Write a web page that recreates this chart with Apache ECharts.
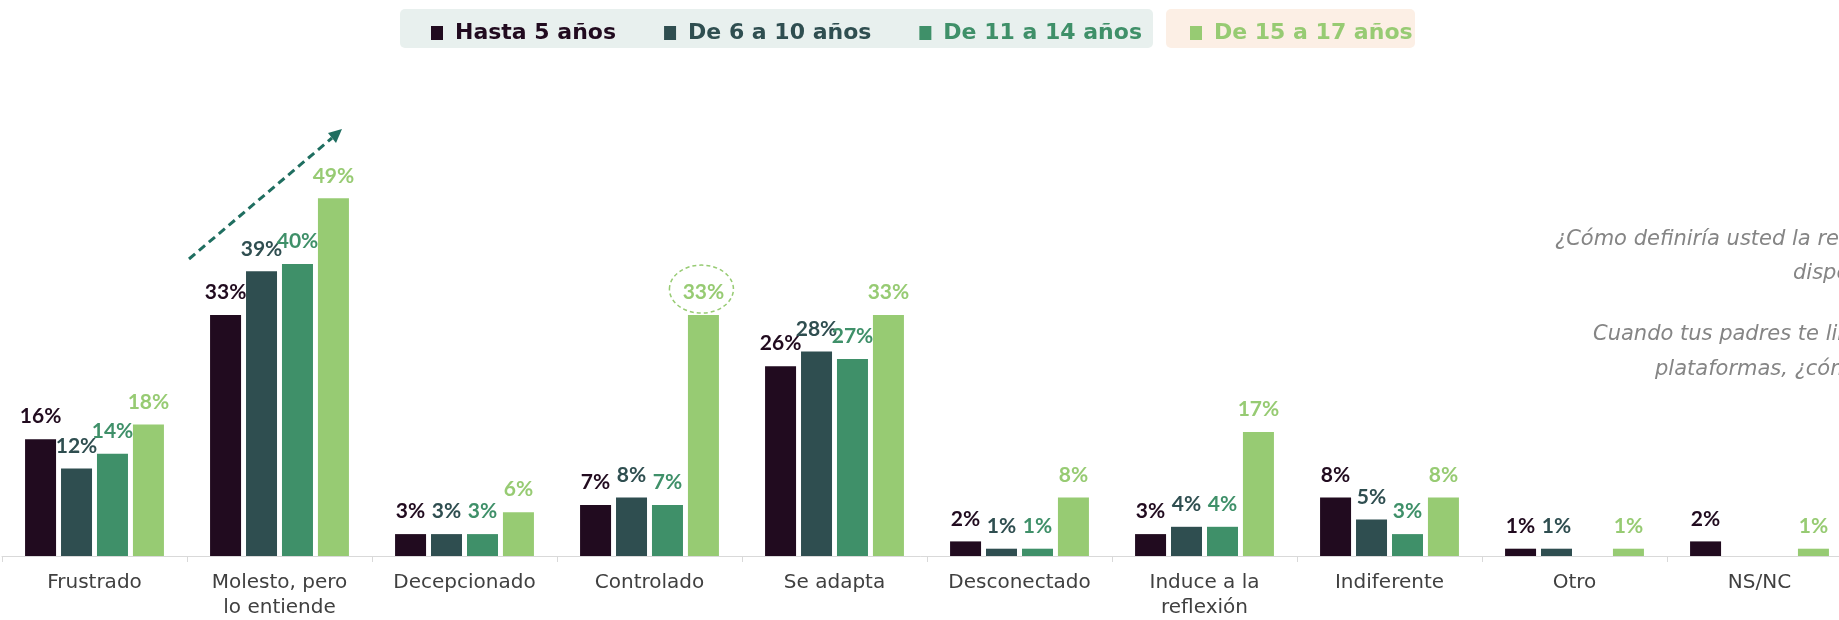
<!DOCTYPE html>
<html>
<head>
<meta charset="utf-8">
<title>Reacción ante la limitación de dispositivos</title>
<script src="https://cdn.jsdelivr.net/npm/echarts@6/dist/echarts.min.js"></script>
<style>
  html, body { margin: 0; padding: 0; background: #fff; }
  #chart { width: 1839px; height: 620px; }
</style>
</head>
<body>
<div id="chart"></div>
<script>
// categorias del eje x
const categories = ['Frustrado', 'Molesto, pero\nlo entiende', 'Decepcionado', 'Controlado', 'Se adapta', 'Desconectado', 'Induce a la\nreflexión', 'Indiferente', 'Otro', 'NS/NC']
const seriesNames = ['Hasta 5 años', 'De 6 a 10 años', 'De 11 a 14 años', 'De 15 a 17 años']

// porcentajes por grupo de edad (null = sin respuesta)
const hasta5 = [16, 33, 3, 7, 26, 2, 3, 8, 1, 2]
const de6a10 = [12, 39, 3, 8, 28, 1, 4, 5, 1, null]
const de11a14 = [14, 40, 3, 7, 27, 1, 4, 3, null, null]
const de15a17 = [18, 49, 6, 33, 33, 8, 17, 8, 1, 1]

const colors = ['#210b1f', '#2f4e50', '#3f9069', '#97cb73']

const questionLines = [
  '¿Cómo definiría usted la reacción de su hijo/a cuando',
  'dispositivos?',
  'Cuando tus padres te limitan el uso de',
  'plataformas, ¿cómo te sientes?'
]

const chart = echarts.init(document.getElementById('chart'))
const seriesData = [hasta5, de6a10, de11a14, de15a17]
const arrowColor = '#1f6e60'
const questionStyle = { fontFamily: 'DejaVu Sans', fontStyle: 'italic', fontSize: 21, fill: '#858585', verticalAlign: 'bottom' }

chart.setOption({
  animation: false,
  backgroundColor: '#fff',
  legend: {
    left: 426,
    top: 17,
    itemGap: 48,
    itemWidth: 12,
    itemHeight: 14,
    icon: 'rect',
    selectedMode: false,
    data: seriesNames.map((name, i) => ({ name, textStyle: { color: colors[i] } })),
    textStyle: {
      fontFamily: 'DejaVu Sans',
      fontWeight: 'bold',
      fontSize: 22,
      padding: [0, 0, 0, 7]
    }
  },
  // el eje sigue mas alla del borde derecho, como en la imagen original
  grid: {
    left: 2,
    right: -13,
    top: 118,
    bottom: 64,
    outerBoundsMode: 'none'
  },
  xAxis: {
    type: 'category',
    data: categories,
    axisLine: { lineStyle: { color: '#d9d9d9' } },
    axisTick: { show: true, length: 6, lineStyle: { color: '#d9d9d9' } },
    axisLabel: {
      interval: 0,
      margin: 14,
      fontFamily: 'DejaVu Sans',
      fontSize: 20,
      lineHeight: 25,
      color: '#404040'
    }
  },
  yAxis: {
    type: 'value',
    min: 0,
    max: 60,
    show: false
  },
  series: seriesData.map((values, i) => ({
    name: seriesNames[i],
    type: 'bar',
    data: values,
    barWidth: 31,
    barGap: '16%',
    itemStyle: { color: colors[i] },
    label: {
      show: true,
      position: 'top',
      distance: 12,
      formatter: '{c}%',
      color: colors[i],
      fontFamily: 'Lato',
      fontWeight: 'bold',
      fontSize: 21
    }
  })),
  graphic: [
    { id: 'legendBg1', type: 'rect', z: 0, shape: { x: 400, y: 9, width: 753, height: 39, r: 5 }, style: { fill: '#e8f0ee' } },
    { id: 'legendBg2', type: 'rect', z: 0, shape: { x: 1166, y: 9, width: 249, height: 39, r: 5 }, style: { fill: '#fcefe5' } },
    { id: 'arrowLine', type: 'line', shape: { x1: 189, y1: 259, x2: 332, y2: 138 }, style: { stroke: arrowColor, lineWidth: 3, lineDash: [8, 5] } },
    { id: 'arrowHead', type: 'polygon', shape: { points: [[342, 129], [328, 133], [336, 143]] }, style: { fill: arrowColor } },
    { id: 'q1', type: 'text', x: 1555, y: 250, style: Object.assign({ text: questionLines[0] }, questionStyle) },
    { id: 'q2', type: 'text', x: 1793, y: 284, style: Object.assign({ text: questionLines[1] }, questionStyle) },
    { id: 'q3', type: 'text', x: 1593, y: 345, style: Object.assign({ text: questionLines[2] }, questionStyle) },
    { id: 'q4', type: 'text', x: 1655, y: 380, style: Object.assign({ text: questionLines[3] }, questionStyle) }
  ]
})

// circulo punteado sobre el 33% de "Controlado" (15 a 17 años)
const layout = chart.getModel().getSeriesByIndex(3).getData().getItemLayout(3)
if (layout) {
  const cx = layout.x + layout.width / 2
  const top = Math.min(layout.y, layout.y + layout.height)
  chart.setOption({
    graphic: [{
      id: 'highlight',
      type: 'ellipse',
      shape: { cx: cx - 2, cy: top - 26, rx: 32, ry: 24 },
      style: { fill: 'none', stroke: colors[3], lineWidth: 1.5, lineDash: [4, 3] }
    }]
  })
}
</script>
</body>
</html>
